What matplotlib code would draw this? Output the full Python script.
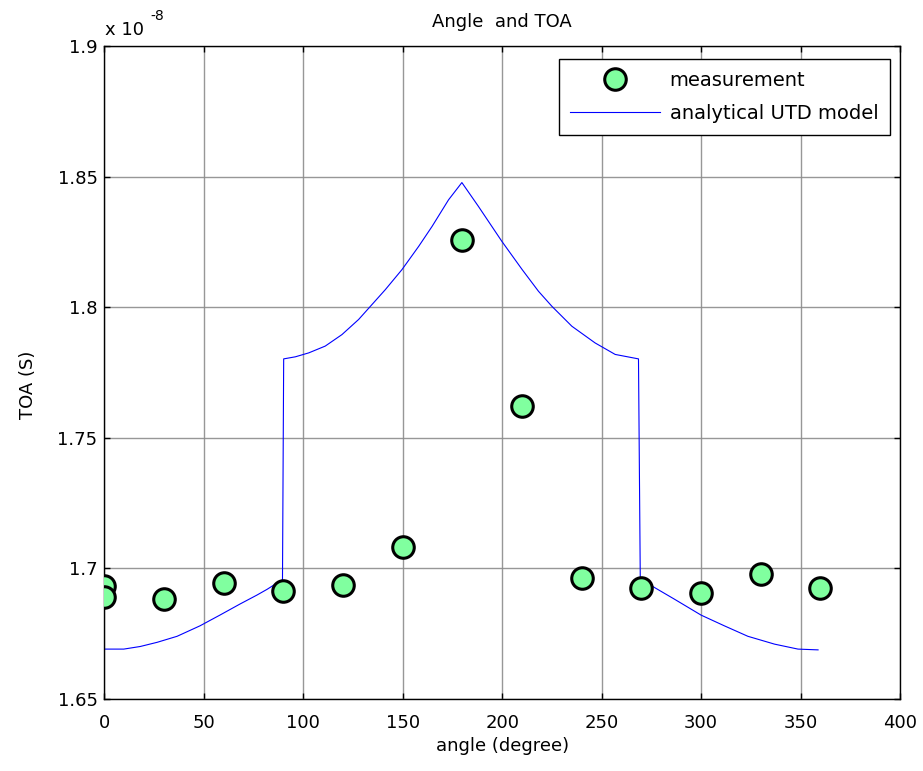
import matplotlib
matplotlib.use("Agg")
import matplotlib.pyplot as plt
from matplotlib.ticker import FuncFormatter

plt.rcParams['font.family'] = ['DejaVu Sans']

# Measured time of arrival (units of 1e-8 s) versus receiver angle (degree)
meas_angle = [0, 0, 30, 60, 90, 120, 150, 180, 210, 240, 270, 300, 330, 360]
meas_toa = [1.6932, 1.6890, 1.6882, 1.6943, 1.6913, 1.6936, 1.7081, 1.8258,
            1.7620, 1.6963, 1.6924, 1.6905, 1.6978, 1.6924]

# Analytical UTD model curve (units of 1e-8 s)
model_angle = [0, 9.7, 18, 26.5, 36.5, 48, 58, 68, 76.7, 81.8, 88.4, 89.5,
               90.1, 96, 102.7, 111, 119.4, 127.8, 134.5, 141.2, 149.6, 158,
               164.7, 173, 179.7, 188, 199.8, 210, 218.2, 225, 235, 246.7,
               256.8, 268.5, 269.4, 276.5, 286.6, 300, 311.7, 323.5, 336.9,
               348.7, 358.8]
model_toa = [1.6691, 1.6691, 1.6701, 1.6717, 1.6740, 1.6780, 1.6821, 1.6863,
             1.6898, 1.6920, 1.6952, 1.6956,
             1.7802, 1.7810, 1.7825, 1.7851, 1.7895, 1.7953, 1.8010, 1.8067,
             1.8144, 1.8233, 1.8309, 1.8411, 1.8477, 1.8386, 1.8252, 1.8144,
             1.8061, 1.8003, 1.7927, 1.7863, 1.7819, 1.7802,
             1.6961, 1.6927, 1.6882, 1.6821, 1.6780, 1.6740, 1.6710, 1.6691,
             1.6688]

x_ticks = [0, 50, 100, 150, 200, 250, 300, 350, 400]
y_ticks = [1.65, 1.70, 1.75, 1.80, 1.85, 1.90]

FS = 13

fig = plt.figure(figsize=(9.23, 7.71), dpi=100)
ax = fig.add_axes([0.1132, 0.0934, 0.8619, 0.8470])

ax.plot(meas_angle, meas_toa, linestyle='none', marker='o', markersize=15.5,
        markerfacecolor='#80ff9f', markeredgecolor='black',
        markeredgewidth=2.2, label='measurement', zorder=3)
ax.plot(model_angle, model_toa, color='#0000ff', linewidth=0.8,
        label='analytical UTD model', zorder=2)

ax.set_xlim(0, 400)
ax.set_ylim(1.65, 1.90)
ax.set_xticks(x_ticks)
ax.set_yticks(y_ticks)
ax.yaxis.set_major_formatter(FuncFormatter(lambda v, p: '%g' % round(v, 4)))
ax.tick_params(direction='in', length=4, width=1, labelsize=FS,
               top=True, right=True, colors='black')
ax.tick_params(axis='x', pad=11)
ax.tick_params(axis='y', pad=5)
ax.grid(True, color='#8c8c8c', linewidth=1.0, alpha=0.9)
for s in ax.spines.values():
    s.set_linewidth(1.0)
    s.set_color('black')

ax.set_title('Angle  and TOA', fontsize=FS, pad=14)
ax.set_xlabel('angle (degree)', fontsize=FS)
ax.xaxis.set_label_coords(0.5, -0.058)
ax.set_ylabel('TOA (S)', fontsize=FS)
ax.yaxis.set_label_coords(-0.085, 0.481)

# exponent of the y axis
fig.text(0.1138, 1 - 35 / 771, 'x 10', fontsize=FS, ha='left',
         va='baseline')
fig.text(0.1625, 1 - 20 / 771, '-8', fontsize=10, ha='left', va='baseline')

leg = ax.legend(loc='upper right', bbox_to_anchor=(0.9875, 0.980),
                fontsize=14, fancybox=False, framealpha=1, edgecolor='black',
                borderpad=0.6, labelspacing=0.75, handlelength=4.6,
                handletextpad=0.5, borderaxespad=0)
leg.get_frame().set_linewidth(1.0)

fig.savefig('out.png', dpi=100)
